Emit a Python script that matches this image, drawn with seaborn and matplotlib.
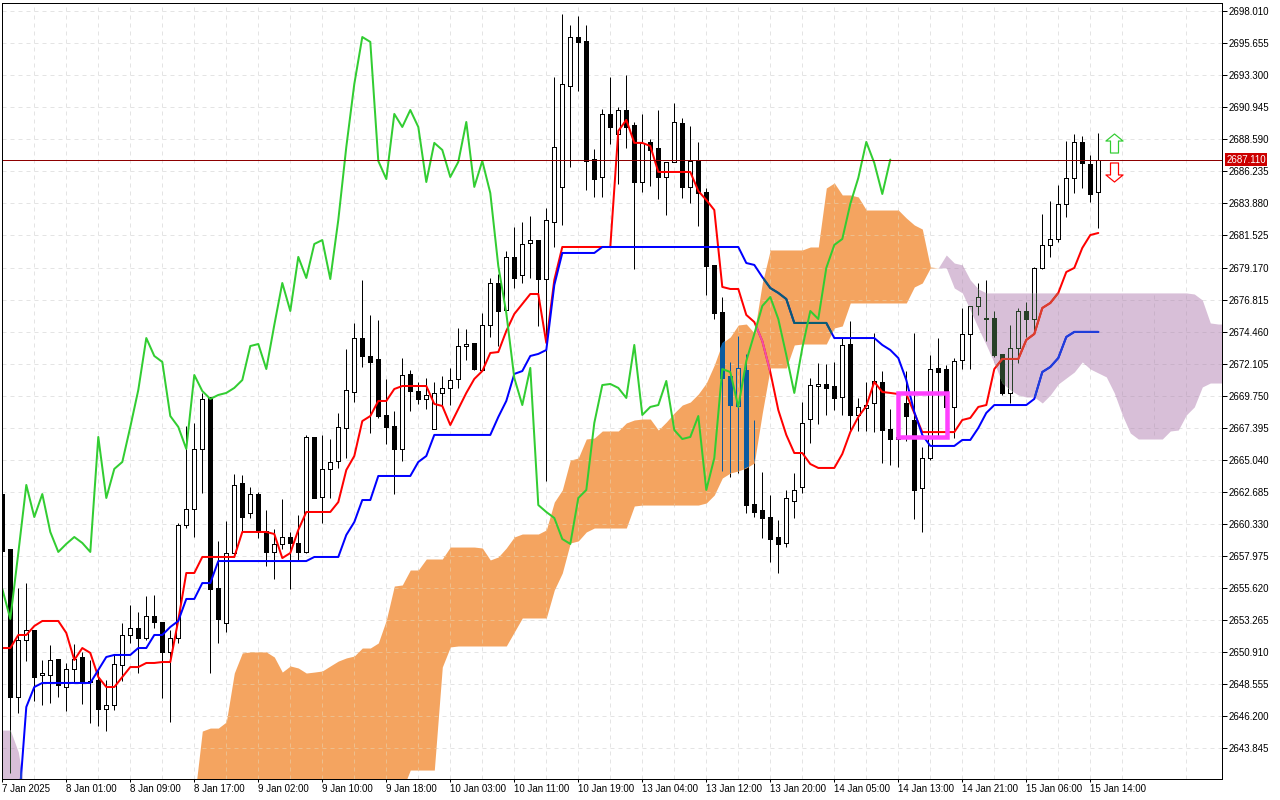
import numpy as np
import pandas as pd
import matplotlib
matplotlib.use("Agg")
import matplotlib.pyplot as plt
from matplotlib.path import Path
from matplotlib.patches import Rectangle
from matplotlib.transforms import blended_transform_factory
import seaborn as sns

# ---------- data ----------
open_ = [
 2662.50,2658.46,2647.56,2651.76,2652.49,2649.18,2649.18,2650.36,2648.30,2649.63,
 2650.51,2648.74,2648.82,2646.68,2646.98,2649.92,2652.13,2652.64,2651.91,2653.53,
 2653.09,2650.88,2651.91,2660.22,2661.40,2665.82,2669.64,2655.59,2653.01,2658.16,
 2663.31,2661.11,2662.50,2659.78,2658.24,2658.83,2659.34,2658.90,2658.24,2666.70,
 2662.29,2664.35,2664.93,2667.36,2670.01,2673.98,2672.66,2672.44,2668.32,2667.51,
 2665.82,2671.34,2670.08,2669.50,2667.29,2669.94,2670.31,2670.97,2673.39,2673.62,
 2671.63,2674.94,2678.03,2676.04,2679.95,2678.62,2680.98,2681.19,2678.32,2682.52,
 2685.10,2692.53,2696.13,2695.84,2687.15,2685.83,2690.47,2689.00,2690.76,2689.66,
 2685.46,2688.41,2687.97,2685.83,2686.94,2689.80,2685.10,2687.01,2684.73,2679.36,
 2675.90,2671.19,2668.98,2671.63,2661.77,2661.33,2660.81,2659.34,2658.90,2661.99,
 2663.02,2668.02,2670.45,2670.60,2670.45,2669.64,2673.54,2668.32,2668.83,2669.20,
 2670.75,2667.29,2666.55,2669.20,2667.95,2662.95,2665.15,2671.78,2671.70,2668.91,
 2672.37,2674.28,2676.34,2675.46,2675.46,2672.81,2669.94,2673.25,2675.97,2675.38,
 2679.14,2680.83,2681.27,2683.85,2685.76,2688.41,2686.79,2684.73]
high = [
 2662.50,2658.46,2655.59,2655.95,2652.49,2650.29,2651.39,2650.36,2650.07,2651.47,
 2650.88,2650.29,2649.55,2648.82,2650.66,2653.01,2654.34,2653.82,2655.00,2655.07,
 2653.09,2652.49,2660.37,2667.51,2667.73,2669.94,2669.64,2659.05,2660.52,2663.98,
 2663.90,2663.02,2662.65,2661.33,2659.93,2662.14,2659.71,2660.96,2666.85,2666.70,
 2666.85,2666.55,2668.47,2673.18,2675.09,2678.25,2675.68,2675.31,2670.97,2668.61,
 2672.51,2671.63,2670.75,2671.04,2670.75,2671.19,2671.78,2674.72,2674.65,2673.62,
 2675.82,2678.40,2678.69,2680.38,2682.15,2682.52,2682.96,2681.19,2683.55,2693.19,
 2697.83,2697.02,2697.68,2697.02,2687.89,2690.84,2693.19,2690.98,2693.34,2689.88,
 2690.47,2688.63,2690.76,2686.94,2691.28,2690.17,2689.58,2688.41,2685.02,2679.36,
 2677.00,2672.22,2674.13,2672.81,2667.95,2664.12,2662.43,2660.59,2662.80,2664.05,
 2669.27,2671.04,2672.14,2672.07,2672.22,2673.98,2675.23,2669.57,2670.75,2674.35,
 2671.55,2668.76,2669.79,2671.55,2674.35,2665.96,2672.73,2673.98,2672.00,2672.51,
 2676.19,2676.34,2678.03,2678.25,2675.97,2672.81,2674.94,2676.19,2676.63,2679.21,
 2683.11,2684.07,2685.25,2688.48,2689.00,2688.85,2687.45,2689.07]
low = [
 2658.31,2641.97,2646.39,2650.21,2647.27,2646.98,2647.12,2647.56,2646.54,2648.67,
 2647.05,2645.65,2645.43,2645.06,2646.61,2648.74,2651.54,2649.33,2651.76,2652.64,
 2647.49,2645.73,2651.54,2660.00,2659.34,2662.58,2649.33,2651.54,2652.35,2657.87,
 2659.71,2660.74,2659.27,2657.21,2656.25,2658.46,2655.52,2657.65,2658.16,2662.21,
 2660.37,2662.21,2664.42,2665.15,2669.27,2671.85,2666.99,2668.10,2666.18,2662.50,
 2664.93,2668.61,2669.13,2668.76,2667.29,2668.91,2669.05,2670.31,2672.37,2671.63,
 2671.63,2674.06,2673.39,2675.90,2677.66,2678.03,2678.40,2674.87,2663.46,2680.68,
 2682.30,2686.57,2692.16,2684.87,2684.36,2684.36,2688.26,2685.32,2687.97,2679.06,
 2684.73,2685.17,2684.21,2683.03,2686.94,2684.29,2683.92,2682.22,2677.15,2675.38,
 2664.20,2663.76,2664.05,2661.11,2660.81,2659.27,2657.50,2656.69,2658.60,2660.74,
 2662.58,2666.26,2667.65,2668.32,2668.68,2668.32,2667.21,2667.14,2667.14,2667.06,
 2664.79,2664.64,2664.49,2666.41,2660.66,2659.71,2665.00,2666.70,2668.68,2666.62,
 2671.70,2671.70,2675.68,2673.76,2672.59,2669.79,2669.20,2672.14,2674.06,2674.35,
 2679.06,2679.95,2681.05,2682.89,2684.65,2685.02,2683.99,2682.08]
close = [
 2658.31,2647.56,2651.76,2652.49,2649.04,2649.33,2650.29,2648.45,2649.63,2650.36,
 2648.67,2648.67,2646.68,2646.98,2650.00,2652.13,2652.64,2651.91,2653.53,2653.09,
 2650.88,2651.91,2660.22,2661.40,2665.82,2669.50,2655.52,2653.31,2658.16,2663.17,
 2660.81,2662.50,2659.71,2658.24,2658.83,2659.34,2658.90,2658.24,2666.70,2662.21,
 2664.35,2664.86,2667.44,2670.16,2673.98,2672.66,2672.22,2668.24,2667.44,2665.82,
 2671.26,2670.08,2669.50,2669.79,2669.94,2670.31,2670.89,2673.39,2673.54,2671.70,
 2674.94,2678.03,2675.97,2679.95,2678.40,2680.90,2681.19,2678.32,2682.67,2688.04,
 2692.67,2696.13,2695.77,2687.01,2685.68,2690.47,2689.51,2690.76,2689.51,2685.46,
 2688.34,2687.82,2685.83,2686.94,2689.88,2685.10,2687.01,2684.65,2679.28,2675.82,
 2671.04,2669.05,2671.78,2661.69,2661.18,2660.74,2659.19,2658.83,2662.21,2662.80,
 2667.73,2670.52,2670.60,2670.31,2669.57,2673.47,2668.32,2668.91,2669.05,2670.82,
 2667.21,2666.55,2666.70,2668.24,2662.80,2665.15,2671.70,2671.48,2668.91,2672.29,
 2674.28,2676.34,2677.00,2675.38,2672.73,2669.94,2673.25,2675.97,2675.38,2679.14,
 2680.83,2681.27,2683.85,2685.76,2688.41,2686.86,2684.58,2687.11]

tenkan = [
 2651.17,2651.17,2652.13,2652.13,2652.79,2653.16,2653.16,2653.16,2652.28,2650.29,
 2651.17,2650.81,2649.04,2648.30,2648.30,2649.04,2649.77,2649.77,2650.07,2650.07,
 2650.14,2650.14,2653.23,2656.69,2656.69,2657.87,2657.87,2657.87,2657.87,2657.87,
 2659.71,2659.71,2659.71,2659.71,2659.56,2657.79,2658.16,2659.86,2661.18,2661.18,
 2661.18,2661.18,2661.91,2664.27,2665.30,2667.87,2668.24,2669.35,2669.35,2670.23,
 2670.45,2670.45,2670.45,2670.45,2669.13,2668.98,2667.58,2668.76,2669.94,2670.97,
 2671.55,2672.88,2672.95,2674.50,2675.75,2676.48,2677.22,2677.22,2673.62,2678.25,
 2680.68,2680.68,2680.68,2680.68,2680.68,2680.68,2680.68,2689.22,2690.03,2688.34,
 2688.34,2688.11,2686.20,2686.20,2686.20,2686.20,2686.20,2684.80,2684.14,2683.40,
 2677.74,2677.59,2677.59,2675.68,2675.16,2673.76,2671.48,2668.68,2666.85,2665.52,
 2665.52,2664.71,2664.42,2664.42,2664.42,2665.45,2667.06,2668.17,2668.98,2670.75,
 2670.01,2669.94,2669.86,2669.86,2668.47,2667.06,2667.06,2667.06,2667.06,2667.06,
 2667.95,2668.10,2668.91,2669.05,2671.70,2672.44,2672.44,2672.44,2673.84,2674.28,
 2676.19,2676.56,2677.30,2678.84,2679.14,2680.61,2681.56,2681.71]

# kijun begins at the third bar
kijun = [2639.03,2646.83,2648.30] + [2648.60]*7 + [
 2649.55,2650.51,2650.66,2650.66,2650.66,2651.17,2651.17,2652.13,2652.13,2652.72,
 2653.16,2654.78,2654.78,2655.95,2655.95] + [2657.57]*12 + [2657.87]*4 + [
 2659.49,2660.44,2662.06,2662.06] + [2663.83]*5 + [2664.86,2665.30] + [2666.85]*8 + [
 2668.17,2669.35,2671.34,2671.55,2672.66,2672.81,2673.10,2677.88] + [2680.24]*5 + [2680.68]*18 + [
 2679.50,2679.36,2678.47,2677.66,2677.30,2676.85] + [2675.09]*5 + [2673.98]*6 + [
 2673.47,2673.10,2672.51,2670.89,2668.54,2666.85] + [2666.04]*4 + [
 2666.48,2666.48,2667.36,2668.47] + [2669.05]*5 + [
 2669.50,2671.48,2671.85,2672.51,2674.06] + [2674.43]*4

# lagging line: the closes, drawn 26 bars back
chikou = close[26:]

# cloud, bar 24 to bar 117 (orange)
orange_top = [
 2639.98,2645.06,2645.28,2645.28,2645.73,2649.33,2650.81,2650.88,2650.88,2650.88,
 2650.51,2649.40,2649.85,2649.70,2649.33,2649.40,2649.48,2649.85,2650.21,2650.44,
 2650.58,2651.17,2651.17,2651.54,2653.23,2655.73,2655.81,2656.91,2656.91,2657.72,
 2657.72,2657.72,2658.60,2658.60,2658.60,2658.60,2658.53,2657.65,2657.87,2658.53,
 2659.34,2659.56,2659.56,2659.56,2659.86,2661.91,2662.80,2665.00,2665.15,2666.55,
 2666.62,2667.14,2667.14,2667.14,2667.73,2667.95,2668.02,2668.02,2667.21,2667.80,
 2668.47,2669.05,2669.27,2669.86,2670.67,2672.00,2673.62,2674.06,2674.94,2675.01,
 2674.35,2678.03,2680.46,2680.46,2680.46,2680.46,2680.46,2680.68,2680.68,2685.02,
 2685.39,2684.51,2684.51,2684.36,2683.40,2683.40,2683.40,2683.40,2683.40,2682.81,
 2682.30,2682.00,2679.21,2679.14]
orange_bottom = [2639.98]*26 + [2640.72] + [2642.19]*4 + [2649.77,2651.25] + [2651.32]*7 + [
 2652.35,2653.38,2653.38,2653.38,2653.38,2655.44,2656.69,2658.90,2659.05,2659.71] + [2660.00]*5 + [
 2661.62] + [2661.69]*8 + [2661.84,2662.43,2663.68,2664.05,2664.20,2664.42,2664.79,2668.47] + [2671.78]*3 + [
 2673.47] + [2673.54]*4 + [2674.72,2674.87] + [2676.56]*8 + [2677.74,2678.03,2679.14,2679.14]

# cloud, bar 0 to bar 3 and bar 117 to bar 153 (thistle)
purple_start_top = [2645.13,2645.13,2643.52,2639.98]
purple_start_bottom = [2639.98,2639.98,2639.98,2639.98]
purple_end_top = [2679.14,2680.09,2679.50,2679.36,2678.25,2677.59] + [2677.30]*26 + [
 2677.22,2676.78,2675.09,2675.01,2675.01]
purple_end_bottom = [
 2679.14,2679.14,2677.66,2677.30,2676.04,2674.72,2673.47,2672.14,2670.67,2670.16,
 2669.79,2669.64,2669.64,2669.20,2669.79,2670.60,2671.04,2671.48,2672.22,2671.70,
 2671.41,2671.12,2669.94,2668.32,2666.99,2666.55,2666.55,2666.55,2666.55,2667.14,
 2667.21,2668.32,2668.91,2670.38,2670.67,2670.67,2670.67]

price_ticks = [2698.010,2695.655,2693.300,2690.945,2688.590,2686.235,2683.880,2681.525,
               2679.170,2676.815,2674.460,2672.105,2669.750,2667.395,2665.040,2662.685,
               2660.330,2657.975,2655.620,2653.265,2650.910,2648.555,2646.200,2643.845]
date_labels = ["7 Jan 2025","8 Jan 01:00","8 Jan 09:00","8 Jan 17:00","9 Jan 02:00","9 Jan 10:00",
               "9 Jan 18:00","10 Jan 03:00","10 Jan 11:00","10 Jan 19:00","13 Jan 04:00","13 Jan 12:00",
               "13 Jan 20:00","14 Jan 05:00","14 Jan 13:00","14 Jan 21:00","15 Jan 06:00","15 Jan 14:00"]
last_price = 2687.11
box_bars = [112.0, 118.1]
box_prices = [2666.70, 2669.90]
arrow_bar = 138.9
arrow_up_price = 2688.30
arrow_down_price = 2686.20

# ---------- styles ----------
PX = 0.72
ORANGE, THISTLE = "#F4A460", "#D8BFD8"
ON_ORANGE, ON_THISTLE = "#0B5B9F", "#274027"
DASH = (0, (4, 4))

sns.set_style("white")
plt.rcParams["font.family"] = ["Liberation Sans", "DejaVu Sans"]

fig = plt.figure(figsize=(12.8, 8), dpi=100)
ax = fig.add_axes([2.3/1280, 1-779.3/800, 1220/1280, 776.8/800])

o, h, l, c = map(np.array, (open_, high, low, close))
bars = np.arange(len(o))
grid_bars = np.arange(4, 152, 4)


def candles(color_dark, white_face, path=None, z=1.0):
    top, bot = np.maximum(o, c), np.minimum(o, c)
    cols = []
    cols.append(ax.vlines(bars, top, h, color=color_dark, lw=PX, zorder=z))
    cols.append(ax.vlines(bars, l, bot, color=color_dark, lw=PX, zorder=z))
    faces = [white_face if cc >= oo else color_dark for oo, cc in zip(o, c)]
    cont = ax.bar(bars, top-bot, bottom=bot, width=0.5, color=faces, edgecolor=color_dark,
                  linewidth=PX, zorder=z+0.01, antialiased=False)
    if path is not None:
        for art in cols:
            art.set_clip_path(path, transform=ax.transData)
        for p in cont.patches:
            p.set_clip_path(path, transform=ax.transData)


def series(xs, ys, color, z, path=None):
    sns.lineplot(x=list(xs), y=list(ys), color=color, lw=2*PX, ax=ax, zorder=z,
                 estimator=None, sort=False, legend=False)
    line = ax.get_lines()[-1]
    if path is not None:
        line.set_clip_path(path, transform=ax.transData)
    return line


def cloud_grid(color, path):
    a = ax.hlines(price_ticks, 0, 152.5, colors=color, lw=PX, linestyles=DASH, zorder=2.05)
    b = ax.vlines(grid_bars, 2641.51, 2698.67, colors=color, lw=PX, linestyles=DASH, zorder=2.05)
    a.set_clip_path(path, transform=ax.transData)
    b.set_clip_path(path, transform=ax.transData)


candles("black", "white")

# cloud
orange = ax.fill_between(np.arange(24, 24+len(orange_top)), orange_bottom, orange_top,
                         color=ORANGE, lw=0, zorder=2)
p1 = ax.fill_between(np.arange(0, 4), purple_start_bottom, purple_start_top, color=THISTLE, lw=0, zorder=2)
p2 = ax.fill_between(np.arange(117, 117+len(purple_end_top)), purple_end_bottom, purple_end_top,
                     color=THISTLE, lw=0, zorder=2)
orange_path = orange.get_paths()[0]
thistle_path = Path.make_compound_path(p1.get_paths()[0], p2.get_paths()[0])

cloud_grid("#EDBE8C", orange_path)
cloud_grid("#C9B2C9", thistle_path)

# what lies under the cloud shows through in the inverted colour
candles(ON_ORANGE, "none", orange_path, z=2.1)
candles(ON_THISTLE, "none", thistle_path, z=2.1)

# grid behind everything else
ax.set_axisbelow(True)
ax.set_xticks(np.arange(0, 144, 8))
ax.set_xticks(np.arange(4, 152, 8), minor=True)
ax.set_yticks(price_ticks)
ax.grid(True, which="both", color="#E4E4E4", lw=PX, linestyle=DASH)

# lines
kx = np.arange(2, 2+len(kijun))
series(bars, tenkan, "#FF0000", 3.0)
series(bars, tenkan, "#F050A8", 3.01, orange_path)
series(bars, tenkan, "#D84030", 3.01, thistle_path)
series(kx, kijun, "#0000FF", 3.1)
series(kx, kijun, "#0B5F70", 3.11, orange_path)
series(kx, kijun, "#2040D8", 3.11, thistle_path)
series(np.arange(len(chikou)), chikou, "#32CD32", 3.2)

ax.axhline(last_price, color="#8E0000", lw=PX, zorder=3.3)

ax.add_patch(Rectangle((box_bars[0], box_prices[0]), box_bars[1]-box_bars[0], box_prices[1]-box_prices[0],
                       fill=False, edgecolor="#FF40FF", lw=4.5*PX, zorder=4, joinstyle="miter"))

# arrows
up_v = [(0, 1), (.9, .26), (.42, .26), (.42, -1), (-.42, -1), (-.42, .26), (-.9, .26), (0, 1)]
up = Path(up_v, closed=True)
down = Path([(x, -y) for x, y in up_v], closed=True)
ax.plot([arrow_bar], [arrow_up_price], marker=up, ms=13.7, mfc="white", mec="#32CD32", mew=PX*1.2, ls="", zorder=4)
ax.plot([arrow_bar], [arrow_down_price], marker=down, ms=13.7, mfc="white", mec="#FF0000", mew=PX*1.2, ls="", zorder=4)

# axes
ax.set_xlim(0, 152.5)
ax.set_ylim(2641.51, 2698.67)
ax.yaxis.tick_right()
ax.set_yticklabels([f"{v:.3f}" for v in price_ticks])
ax.set_xticklabels(date_labels)
for t in ax.get_xticklabels():
    t.set_ha("left")
ax.tick_params(axis="y", which="major", length=3.6, width=PX, pad=1.0, labelsize=7.0, color="black",
               right=True, labelcolor="black")
ax.tick_params(axis="x", which="major", length=2.2, width=PX, pad=1.5, labelsize=7.0, color="black",
               bottom=True, labelcolor="black")
ax.tick_params(axis="x", which="minor", length=0)
for s in ax.spines.values():
    s.set_visible(True)
    s.set_color("black")
    s.set_linewidth(PX)
    s.set_zorder(5)
ax.set_xlabel("")
ax.set_ylabel("")

tr = blended_transform_factory(ax.transAxes, ax.transData)
ax.text(1+4.0/1220, last_price, f"{last_price:.3f}", transform=tr, ha="left", va="center",
        fontsize=7.0, color="white", zorder=6, clip_on=False,
        bbox=dict(boxstyle="square,pad=0.14", fc="#CC0000", ec="none"))

fig.savefig("out.png", dpi=100, facecolor="white")
